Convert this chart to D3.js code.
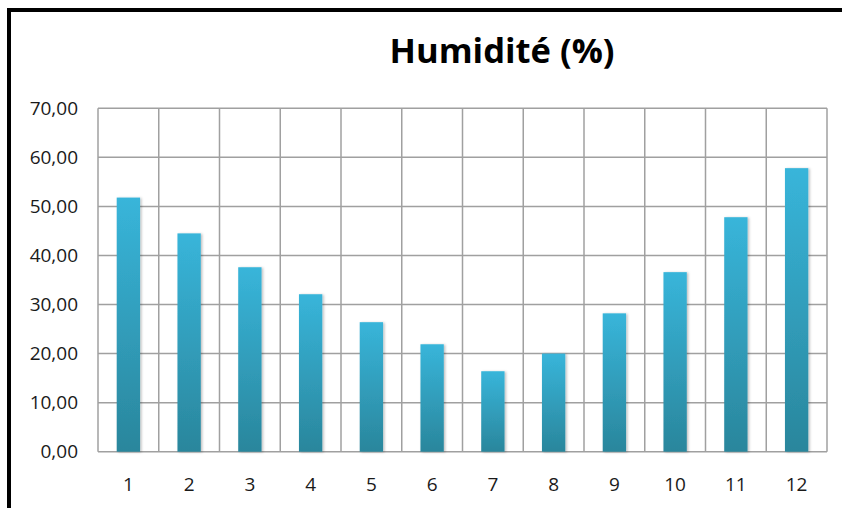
<!DOCTYPE html>
<html>
<head>
<meta charset="utf-8">
<script src="https://cdn.jsdelivr.net/npm/d3@7"></script>
<style>
body { margin:0; background:#fff; }
text { font-family: "Open Sans", "Noto Sans", sans-serif; }
</style>
</head>
<body>
<script>
// donnees
var mois = ["1","2","3","4","5","6","7","8","9","10","11","12"];
var humidite = [51.8, 44.5, 37.6, 32.1, 26.4, 21.9, 16.4, 20.0, 28.2, 36.6, 47.8, 57.8];
var yTicks = [0, 10, 20, 30, 40, 50, 60, 70];
var titre = "Humidité (%)";

var width = 842, height = 508;
var plotLeft = 98, plotRight = 827, plotTop = 108.3, plotBottom = 451.7;

var svg = d3.select("body").append("svg")
    .attr("width", width)
    .attr("height", height);

var defs = svg.append("defs");
var grad = defs.append("linearGradient")
    .attr("id", "barGrad")
    .attr("x1", 0).attr("y1", 0).attr("x2", 0).attr("y2", 1);
grad.append("stop").attr("offset", "0%").attr("stop-color", "#38b5da");
grad.append("stop").attr("offset", "100%").attr("stop-color", "#2a869c");

var shadow = defs.append("filter").attr("id", "shadow")
    .attr("x", "-30%").attr("y", "-10%").attr("width", "160%").attr("height", "120%");
shadow.append("feDropShadow")
    .attr("dx", 1.5).attr("dy", 0.5).attr("stdDeviation", 1.2)
    .attr("flood-color", "#000").attr("flood-opacity", 0.25);

// bordure noire (haut et gauche)
svg.append("line").attr("x1", 7).attr("x2", width).attr("y1", 10).attr("y2", 10)
    .attr("stroke", "#000").attr("stroke-width", 4);
svg.append("line").attr("x1", 9).attr("x2", 9).attr("y1", 8).attr("y2", height)
    .attr("stroke", "#000").attr("stroke-width", 4);

var x = d3.scaleBand().domain(mois).range([plotLeft, plotRight]).padding(0);
var y = d3.scaleLinear().domain([0, 70]).range([plotBottom, plotTop]);

// grille horizontale
svg.append("g").selectAll("line").data(yTicks).enter().append("line")
    .attr("x1", plotLeft).attr("x2", plotRight)
    .attr("y1", function(d){ return y(d); })
    .attr("y2", function(d){ return y(d); })
    .attr("stroke", "#a0a0a0").attr("stroke-width", 1.5);

// grille verticale
var bounds = mois.map(function(m){ return x(m); }).concat([plotRight]);
svg.append("g").selectAll("line").data(bounds).enter().append("line")
    .attr("x1", function(d){ return d; }).attr("x2", function(d){ return d; })
    .attr("y1", plotTop).attr("y2", plotBottom)
    .attr("stroke", "#a0a0a0").attr("stroke-width", 1.5);

// barres
var bw = x.bandwidth() * 0.384;
svg.append("g").selectAll("rect").data(humidite).enter().append("rect")
    .attr("x", function(d, i){ return x(mois[i]) + (x.bandwidth() - bw) / 2; })
    .attr("y", function(d){ return y(d); })
    .attr("width", bw)
    .attr("height", function(d){ return y(0) - y(d); })
    .attr("fill", "url(#barGrad)")
    .attr("filter", "url(#shadow)");

// axe y
svg.append("g").selectAll("text").data(yTicks).enter().append("text")
    .attr("x", 78)
    .attr("y", function(d){ return y(d) + 6.5; })
    .attr("text-anchor", "end")
    .attr("font-size", 19)
    .attr("fill", "#1a1a1a")
    .text(function(d){ return d3.format(".2f")(d).replace(".", ","); });

// axe x
svg.append("g").selectAll("text").data(mois).enter().append("text")
    .attr("x", function(d){ return x(d) + x.bandwidth() / 2; })
    .attr("y", 491)
    .attr("text-anchor", "middle")
    .attr("font-size", 19)
    .attr("fill", "#1a1a1a")
    .text(function(d){ return d; });

// titre
svg.append("text")
    .attr("x", 502).attr("y", 63)
    .attr("text-anchor", "middle")
    .attr("font-size", 34)
    .attr("font-weight", "bold")
    .attr("fill", "#000")
    .attr("textLength", 225)
    .attr("lengthAdjust", "spacingAndGlyphs")
    .text(titre);
</script>
</body>
</html>
